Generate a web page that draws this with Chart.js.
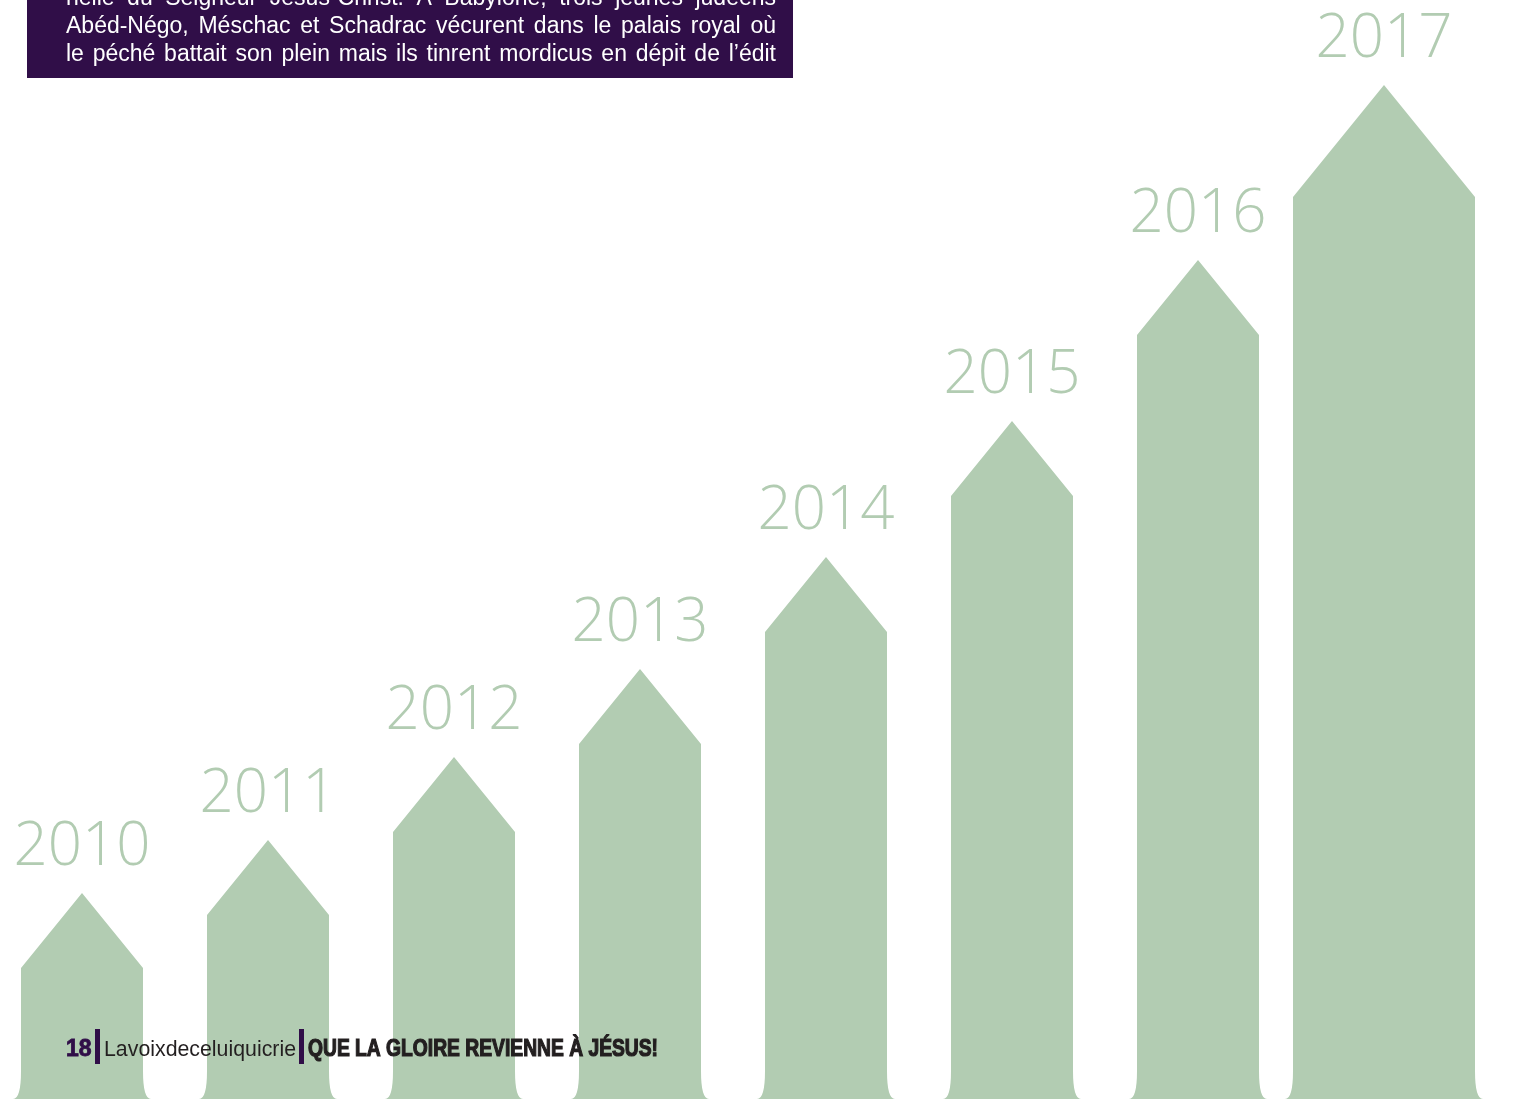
<!DOCTYPE html>
<html>
<head>
<meta charset="utf-8">
<script src="https://cdn.jsdelivr.net/npm/chart.js@4.4.1/dist/chart.umd.min.js"></script>
<style>
  html, body { margin: 0; padding: 0; background: #fff; overflow: hidden; }
  #wrap { position: relative; width: 1518px; height: 1099px; }
</style>
</head>
<body>
<div id="wrap"><canvas id="growth" width="1518" height="1099"></canvas></div>
<script>
// years and arrow heights (tip of each arrow)
var years = ["2010", "2011", "2012", "2013", "2014", "2015", "2016", "2017"];
var heights = [206, 259, 342, 430, 542, 678, 839, 1014];

var introLines = [
  "nelle du Seigneur Jésus-Christ. A Babylone, trois jeunes judéens",
  "Abéd-Négo, Méschac et Schadrac vécurent dans le palais royal où",
  "le péché battait son plein mais ils tinrent mordicus en dépit de l\u2019édit"
];
var footerPage = "18";
var footerMag = "Lavoixdeceluiquicrie";
var footerTitle = "QUE LA GLOIRE REVIENNE À JÉSUS!";

var green = "#b2ccb2";
var purple = "#300e48";

function justify(ctx, text, x, y, w) {
  var words = text.split(" ");
  var total = 0;
  words.forEach(function (t) { total += ctx.measureText(t).width; });
  var gap = (w - total) / (words.length - 1);
  if (gap < 4) { ctx.fillText(text, x, y, w); return; }
  var cx = x;
  words.forEach(function (t) {
    ctx.fillText(t, cx, y);
    cx += ctx.measureText(t).width + gap;
  });
}

// arrows + year labels, drawn from the bar elements
var arrows = {
  id: "arrows",
  afterDatasetsDraw: function (chart) {
    var ctx = chart.ctx;
    ctx.save();
    ctx.fillStyle = green;
    ctx.font = "300 60px 'Open Sans', Lato, sans-serif";
    ctx.textAlign = "center";
    ctx.textBaseline = "alphabetic";
    chart.data.datasets.forEach(function (ds, di) {
      chart.getDatasetMeta(di).data.forEach(function (bar, i) {
        if (ds.data[i] == null) return;
        var p = bar.getProps(["x", "y", "base", "width"], true);
        var half = p.width / 2, head = p.width * 0.615;
        var l = p.x - half, r = p.x + half;
        ctx.beginPath();
        ctx.moveTo(l - 8, p.base);
        ctx.quadraticCurveTo(l, p.base, l, p.base - 28);
        ctx.lineTo(l, p.y + head);
        ctx.lineTo(p.x, p.y);
        ctx.lineTo(r, p.y + head);
        ctx.lineTo(r, p.base - 28);
        ctx.quadraticCurveTo(r, p.base, r + 8, p.base);
        ctx.closePath();
        ctx.fill();
        ctx.fillText(years[i], p.x, p.y - 28);
      });
    });
    ctx.restore();
  },
  afterDraw: function (chart) {
    var ctx = chart.ctx;
    ctx.save();
    // text box at the top
    ctx.fillStyle = purple;
    ctx.fillRect(27, 0, 766, 78);
    ctx.fillStyle = "#ffffff";
    ctx.font = "23px 'Liberation Sans', Arial, sans-serif";
    ctx.textAlign = "left";
    introLines.forEach(function (line, k) {
      justify(ctx, line, 66, 5 + k * 28, 710);
    });

    // footer
    ctx.fillStyle = purple;
    ctx.strokeStyle = purple;
    ctx.lineWidth = 0.8;
    ctx.font = "bold 23px 'Liberation Sans', Arial, sans-serif";
    ctx.fillText(footerPage, 66, 1056, 26);
    ctx.strokeText(footerPage, 66, 1056, 26);
    ctx.fillRect(95, 1029, 5, 35);
    ctx.fillRect(299, 1029, 5, 35);
    ctx.fillStyle = "#231f20";
    ctx.font = "22px 'Liberation Sans', Arial, sans-serif";
    ctx.fillText(footerMag, 104, 1056, 192);
    ctx.font = "bold 23px 'Liberation Sans', Arial, sans-serif";
    ctx.strokeStyle = "#231f20";
    ctx.lineWidth = 1.2;
    ctx.fillText(footerTitle, 308, 1056, 350);
    ctx.strokeText(footerTitle, 308, 1056, 350);
    ctx.restore();
  }
};

new Chart(document.getElementById("growth"), {
  type: "bar",
  data: {
    labels: years,
    datasets: [
      {
        label: "2010-2016",
        data: heights.map(function (v, i) { return i < 7 ? v : null; }),
        barThickness: 122,
        grouped: false,
        backgroundColor: "rgba(0,0,0,0)"
      },
      {
        label: "2017",
        data: heights.map(function (v, i) { return i === 7 ? v : null; }),
        barThickness: 182,
        grouped: false,
        backgroundColor: "rgba(0,0,0,0)"
      }
    ]
  },
  options: {
    responsive: false,
    animation: false,
    layout: { padding: { left: 82, right: 134, top: 0, bottom: 0 } },
    scales: {
      x: { display: false, offset: false },
      y: { display: false, min: 0, max: 1099 }
    },
    plugins: {
      legend: { display: false },
      tooltip: { enabled: false }
    }
  },
  plugins: [arrows]
});
</script>
</body>
</html>
